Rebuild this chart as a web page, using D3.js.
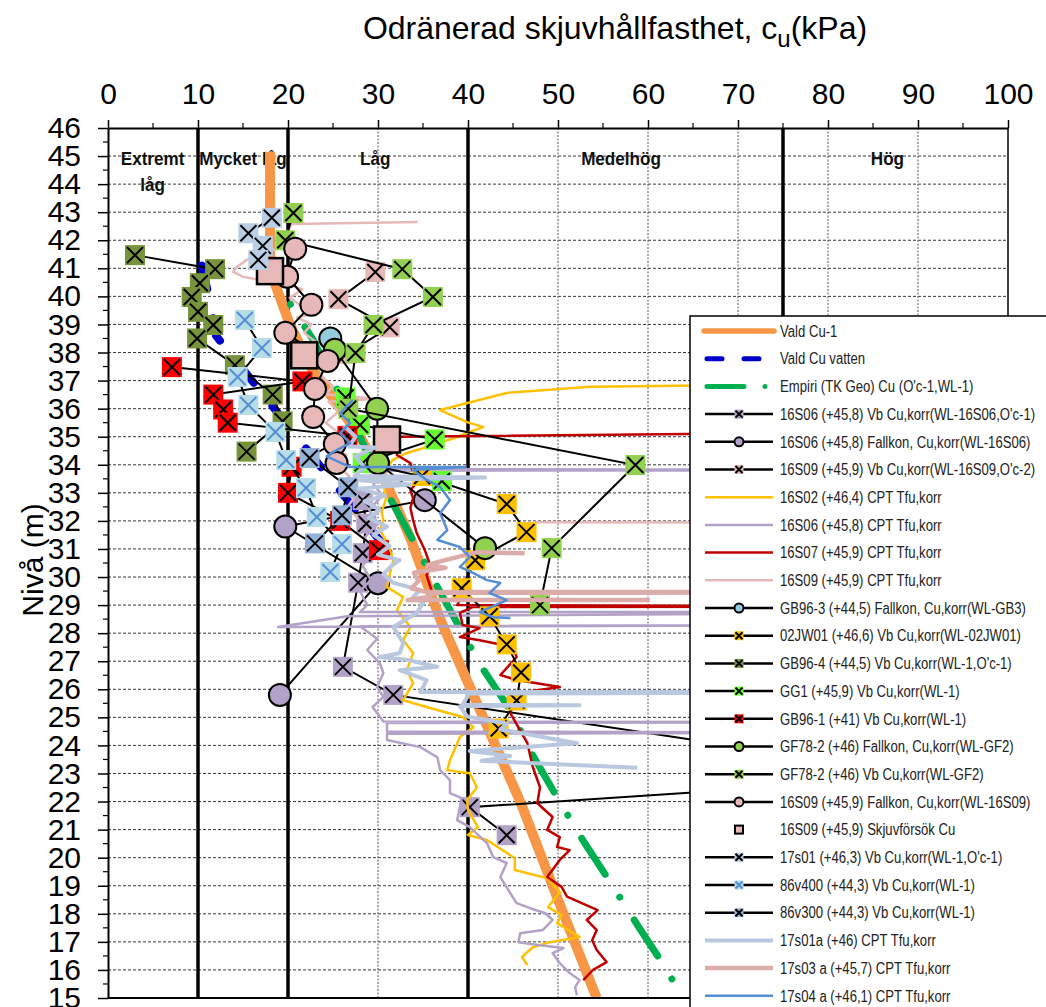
<!DOCTYPE html>
<html>
<head>
<meta charset="utf-8">
<script src="https://cdn.jsdelivr.net/npm/d3@7"></script>
<style>
  body { margin: 0; background: #fff; }
  svg { display: block; }
</style>
</head>
<body>
<svg id="chart" width="1046" height="1007"></svg>
<script>
// ---------- axis ticks and zone boundaries ----------
const xTicks = [0, 10, 20, 30, 40, 50, 60, 70, 80, 90, 100];
const xMinorTicks = [5, 15, 25, 35, 45, 55, 65, 75, 85, 95];
const yTicks = d3.range(15, 47);
const zoneLimits = [10, 20, 40, 75];
const zoneNames = [["Extremt", "låg"], ["Mycket låg"], ["Låg"], ["Medelhög"], ["Hög"]];
const zoneNameAt = [4.95, 15, 29.7, 57, 86.6];

// ---------- design lines [cu kPa, level m] ----------
const valdCu1 = [[18,45.15],[18,41.5],[18.5,40.5],[20.2,39],[22.5,37.5],[24.7,36.5],[28,35],[31,33.3],[33.7,31.3],[36.9,28.5],[41,25.5],[45.8,22],[50,18.5],[54.3,15]];
const valdCuVatten = [[10.4,41.1],[11.3,39.9],[12.0,38.6],[30.2,31.3],[33,30.1]];
const empiri = [[19.3,40.2],[22.8,38.45],[31,33],[33.9,31.3],[36,30],[38.8,28.36],[41.6,26.75],[44.7,25.26],[47.1,23.7],[49.9,22.15],[52.9,20.55],[55.8,19.13],[58.9,17.56],[61.9,16.1],[63.7,15.1]];

// ---------- vane / fall-cone / shear tests [cu kPa, level m] ----------
const vb16S06 = [[28.3,32.74],[28.7,31.9],[28.3,30.85],[27.8,29.8],[26.1,26.8],[31.7,25.8],[92,22.9],[40.2,21.8],[44.3,20.8]];
const fk16S06 = [[35.2,32.74],[19.7,31.8],[30.0,29.78],[19.1,25.8]];
const vb16S09 = [[29.7,40.87],[25.6,39.9],[31.3,38.9],[26.5,37.95]];
const fkGB963 = [[24.7,38.5]];
const vb02JW01 = [[34.9,33.6],[44.3,32.6],[46.5,31.6],[40.8,30.6],[39.3,29.6],[42.4,28.6],[44.3,27.6],[45.9,26.6],[45.4,25.6],[43.4,24.6]];
const vbGB964 = [[3.0,41.47],[11.9,40.97],[10.2,40.47],[9.3,39.98],[10.0,39.45],[11.7,38.98],[9.9,38.5],[14.1,37.55],[18.3,36.5],[19.4,35.55],[15.4,34.47]];
const vbGG1 = [[26.4,36.4],[28.0,35.42],[36.3,34.9],[28.3,34.06],[37.1,33.42]];
const vbGB961 = [[7.1,37.48],[21.6,36.97],[11.7,36.5],[12.8,35.97],[13.3,35.5],[26.6,35.03],[20.4,33.93],[20.0,33.0],[25.8,32.0],[30.1,30.96]];
const fkGF782 = [[25.2,38.1],[29.9,36.0],[30.0,34.06],[41.9,31.03]];
const vbGF782 = [[20.6,42.97],[19.7,42.0],[32.7,40.97],[36.1,39.98],[29.5,38.98],[27.5,37.98],[26.7,36.0],[58.6,33.99],[49.3,31.03],[48.0,29.0]];
const fk16S09 = [[20.8,41.7],[19.9,40.7],[22.6,39.7],[19.7,38.7],[24.4,37.7],[23.0,36.7],[22.8,35.7],[25.2,34.74],[25.4,34.06]];
const skjuv16S09 = [[18.0,40.9],[21.8,37.9],[31.0,34.9]];
const vb17s01 = [[18.2,42.8],[15.6,42.25],[17.2,41.8],[16.7,41.3]];
const vb86v400 = [[15.2,39.16],[17.1,38.16],[14.4,37.13],[15.6,36.13],[18.6,35.17],[19.8,34.17],[22.0,33.17],[23.2,32.14],[26.0,31.17],[24.7,30.18]];
const vb86v300 = [[22.4,34.24],[26.7,33.2],[26.0,32.2],[23.0,31.2]];

// ---------- CPT soundings [cu kPa, level m] ----------
const cpt16S02 = [[75,36.86],[53.6,36.78],[44.3,36.56],[36.9,35.95],[39.9,35.52],[41.7,35.34],[40.2,35.17],[38.8,34.99],[35.4,34.63],[33.2,34.42],[31.6,34.17],[31,33.81],[30.6,33.35],[30.9,32.8],[30.4,32.3],[30.6,32.03],[30.2,31.67],[31.1,31.21],[31.7,30.6],[31.3,30.1],[31,29.64],[32.8,29.29],[32.1,28.82],[33.6,28.22],[32.8,27.75],[33.9,27.29],[33.2,26.68],[33.9,26.22],[32.8,25.61],[35.4,25.37],[39.4,25.01],[40.6,24.65],[39.1,24.3],[38,23.48],[37.7,23.12],[40.2,23.01],[41,22.51],[39.9,22.05],[40,21.7],[41.1,21.09],[40,20.81],[42.1,20.63],[45.2,19.98],[45.2,19.56],[48.8,19.27],[50.2,18.77],[48.9,18.24],[50.4,17.95],[49.9,17.67],[52.4,17.17],[49.1,16.99],[47.2,16.81],[46,16.46],[46.6,16.17]];
const cpt16S06 = [[29.5,34.2],[30.5,33.85],[99,33.8],[31,33.79],[29.5,33.3],[30.5,32.9],[29,32.4],[30,31.9],[28.5,31.4],[29.5,30.9],[28.3,30.4],[29.2,29.9],[28,29.5],[28.8,29.0],[28,28.75],[99,28.75],[26.6,28.6],[18.9,28.22],[99,28.3],[28,28.25],[29.9,27.8],[28.8,27.4],[30.2,26.93],[30.6,26.58],[29.9,26.08],[30.6,25.73],[29.4,25.37],[30.6,24.85],[99,24.82],[31,24.8],[31,24.5],[99,24.45],[31,24.42],[31,24.19],[34.7,23.94],[36.6,23.58],[36.9,23.12],[38,22.76],[38,22.3],[39.3,22.12],[38.8,21.34],[40.2,21.09],[42.1,20.52],[42.8,20.02],[44.3,19.81],[43.6,19.31],[44.7,18.74],[45.4,18.38],[46.9,18.2],[48.6,18.02],[49.4,17.78],[48.3,17.42],[45.8,17.31],[45.6,16.99],[48,16.88],[50.6,16.78],[49.4,16.6],[50.2,16.24],[51.3,15.89],[52.4,15.64],[51.9,15.39],[52.1,15.1]];
const cpt16S07 = [[80,35.14],[32.4,35.0],[32.1,34.35],[33.6,34.06],[34.3,33.35],[33.6,33.1],[33.9,32.81],[33.6,32.46],[33.9,32.03],[34.3,31.57],[35.2,30.96],[35.8,30.43],[35.4,30.07],[36,29.47],[90,29.45],[39.5,29.43],[38.8,29.0],[90,28.95],[40.5,28.93],[39.1,28.72],[39.4,28.29],[41.3,28.18],[39.1,27.86],[41.3,27.75],[45,27.5],[45.4,27.15],[43.6,26.51],[45.4,26.33],[50.2,26.08],[45.4,25.86],[44.7,25.15],[46.6,24.08],[47.2,23.23],[48,22.51],[47.7,21.94],[49.4,21.45],[48.8,20.99],[50.2,20.73],[49.9,20.38],[51.3,20.27],[50.2,19.92],[48.8,19.31],[50.4,18.96],[51,18.61],[54.4,18.13],[53.2,17.78],[54.3,17.42],[53.8,17.06],[54.3,16.71],[55.4,16.28],[53.9,16],[52.8,15.64]];
const cpt16S09 = [[34.4,42.65],[20.4,42.58],[19.8,42.2],[19,41.75],[17,41.45],[15.4,41.3],[14.3,41.05],[13.9,40.87],[15,40.7],[16.6,40.6],[19.3,40.5],[21.6,40.25],[20.2,39.95],[21.3,39.7],[23.6,39.45],[21,39.25],[22.6,39.0],[21.8,38.7],[23.2,38.35],[22.4,38.0],[24.5,37.6],[23.6,37.2],[25,36.8],[24.2,36.5],[29.9,36.35],[24.5,36.25],[25.6,35.9],[24.2,35.5],[25.8,35.1],[24.4,34.7],[26.5,34.35],[25.4,34.0],[26.8,33.6],[25.8,33.2],[27.3,32.8],[26.5,32.45],[27.8,32.1],null,[47.2,31.95],[99,31.93]];
const cpt17s01a = [[26.2,35.4],[27.5,35.0],[26.8,34.65],[29.7,34.62],[27.5,34.3],[28.5,33.9],[27.4,33.6],[41.9,33.55],[28,33.45],[33.6,33.3],[27.8,33.15],[30.8,32.9],[28.5,32.7],[30.2,32.4],[29,32.1],[31,31.8],[29.5,31.5],[31.3,31.1],[30,30.8],[32.4,30.6],[31.5,30.4],[30.6,30.1],[31.7,29.79],[34.7,29.54],[33.9,29.29],[35,29.07],[34.3,28.72],[31.7,28.22],[32.8,27.65],[32.4,27.29],[30.2,27.15],[33.2,27.05],[36.6,26.8],[32.4,26.68],[35.4,26.33],[35,26.08],[34.7,25.9],[99,25.9],[39.9,25.85],[39.9,25.72],[39.4,25.45],[52.4,25.43],[39.1,25.4],[39.9,25.03],[44.3,24.78],[43.6,24.57],[52.1,24.08],[40.2,23.8],[44.7,23.62],[41.5,23.45],[58.8,23.2]];
const cpt17s03a = [[46.3,30.85],[40.9,30.88],[36.8,30.55],[35.5,30.42],[37.5,30.33],[34,30.15],[34.5,29.85],[33.7,29.6],[35.3,29.47],[99,29.46],[36,29.44],[35.8,29.3],[33.3,29.18],[60.2,29.18]];
const cpt17s04a = [[27.2,36.3],[25.8,35.84],[26.9,35.49],[25.8,35.13],[26.9,34.77],[25,34.45],[24.3,34.3],[26.9,33.92],[39.7,33.92],[33.9,33.81],[35.4,33.46],[36.9,33.21],[38,32.74],[36.9,32.28],[37.7,31.67],[36.6,31.32],[39.1,31.07],[40.2,30.71],[39.1,30.36],[40.6,30.14],[42.1,29.89],[43.6,29.79],[42.4,29.43],[44.3,29.18],[41.3,28.75],[42.8,28.57],[44.7,28.54]];

// ---------- series table (drawing and legend order) ----------
const series = [
  { label: "Vald Cu-1", kind: "thick", data: valdCu1, color: "#f79646" },
  { label: "Vald Cu vatten", kind: "dash", data: valdCuVatten, color: "#0000cc" },
  { label: "Empiri (TK Geo) Cu (O'c-1,WL-1)", kind: "dashdot", data: empiri, color: "#00b050" },
  { label: "16S06 (+45,8) Vb Cu,korr(WL-16S06,O'c-1)", kind: "vb", data: vb16S06, fill: "#b3a2c7", cross: "#000" },
  { label: "16S06 (+45,8) Fallkon, Cu,korr(WL-16S06)", kind: "fk", data: fk16S06, fill: "#b3a2c7" },
  { label: "16S09 (+45,9) Vb Cu,korr(WL-16S09,O'c-2)", kind: "vb", data: vb16S09, fill: "#e6b9b8", cross: "#000" },
  { label: "16S02 (+46,4) CPT Tfu,korr", kind: "cpt", data: cpt16S02, color: "#ffc000", width: 2.5 },
  { label: "16S06 (+45,8) CPT Tfu,korr", kind: "cpt", data: cpt16S06, color: "#b3a2c7", width: 2.5 },
  { label: "16S07 (+45,9) CPT Tfu,korr", kind: "cpt", data: cpt16S07, color: "#c00000", width: 2.5 },
  { label: "16S09 (+45,9) CPT Tfu,korr", kind: "cpt", data: cpt16S09, color: "#e6b9b8", width: 2.5 },
  { label: "GB96-3 (+44,5) Fallkon, Cu,korr(WL-GB3)", kind: "fk", data: fkGB963, fill: "#93cddd" },
  { label: "02JW01 (+46,6) Vb Cu,korr(WL-02JW01)", kind: "vb", data: vb02JW01, fill: "#ffc000", cross: "#000" },
  { label: "GB96-4 (+44,5) Vb Cu,korr(WL-1,O'c-1)", kind: "vb", data: vbGB964, fill: "#77933c", cross: "#000" },
  { label: "GG1 (+45,9) Vb Cu,korr(WL-1)", kind: "vb", data: vbGG1, fill: "#66ff33", cross: "#000" },
  { label: "GB96-1 (+41) Vb Cu,korr(WL-1)", kind: "vb", data: vbGB961, fill: "#ff0000", cross: "#000" },
  { label: "GF78-2 (+46) Fallkon, Cu,korr(WL-GF2)", kind: "fk", data: fkGF782, fill: "#92d050" },
  { label: "GF78-2 (+46) Vb Cu,korr(WL-GF2)", kind: "vb", data: vbGF782, fill: "#92d050", cross: "#000" },
  { label: "16S09 (+45,9) Fallkon, Cu,korr(WL-16S09)", kind: "fk", data: fk16S09, fill: "#e6b9b8" },
  { label: "16S09 (+45,9) Skjuvförsök Cu", kind: "box", data: skjuv16S09, fill: "#e6b9b8" },
  { label: "17s01 (+46,3) Vb Cu,korr(WL-1,O'c-1)", kind: "vb", data: vb17s01, fill: "#b9cde5", cross: "#000" },
  { label: "86v400 (+44,3) Vb Cu,korr(WL-1)", kind: "vb", data: vb86v400, fill: "#b7dee8", cross: "#558ed5" },
  { label: "86v300 (+44,3) Vb Cu,korr(WL-1)", kind: "vb", data: vb86v300, fill: "#95b3d7", cross: "#000" },
  { label: "17s01a (+46) CPT Tfu,korr", kind: "cpt", data: cpt17s01a, color: "#b9c7df", width: 4 },
  { label: "17s03 a (+45,7) CPT Tfu,korr", kind: "cpt", data: cpt17s03a, color: "#dcacab", width: 4.5 },
  { label: "17s04 a (+46,1) CPT Tfu,korr", kind: "cpt", data: cpt17s04a, color: "#558ed5", width: 2.5 }
];

// ---------- layout ----------
const svg = d3.select("#chart");
const x = d3.scaleLinear().domain([0, 100]).range([108, 1008]);
const y = d3.scaleLinear().domain([15, 46]).range([998, 128]);
const AX_FONT = "'Liberation Sans', Arial, sans-serif";

svg.append("defs").append("clipPath").attr("id", "plotClip")
  .append("rect").attr("x", x(0)).attr("y", y(46)).attr("width", x(100) - x(0)).attr("height", y(15) - y(46));

// title with subscript u
const title = svg.append("text")
  .attr("x", 615).attr("y", 39).attr("text-anchor", "middle")
  .style("font-family", AX_FONT).style("font-size", "32px").attr("fill", "#000");
title.append("tspan").text("Odränerad skjuvhållfasthet, c");
title.append("tspan").attr("dy", 8).style("font-size", "24px").text("u");
title.append("tspan").attr("dy", -8).text("(kPa)");

// horizontal dashed grid
const grid = svg.append("g");
grid.selectAll("line.h").data(yTicks.filter(d => d > 15 && d < 46)).join("line")
  .attr("x1", x(0)).attr("x2", x(100)).attr("y1", d => y(d)).attr("y2", d => y(d))
  .attr("stroke", "#3a3a3a").attr("stroke-width", 1).attr("stroke-dasharray", "3,2");
// vertical dotted grid
grid.selectAll("line.v").data(xTicks.filter(d => d > 0 && d < 100 && !zoneLimits.includes(d))).join("line")
  .attr("x1", d => x(d)).attr("x2", d => x(d)).attr("y1", y(46)).attr("y2", y(15))
  .attr("stroke", "#555").attr("stroke-width", 1).attr("stroke-dasharray", "2,1.5");

// zone boundaries
svg.append("g").selectAll("line").data(zoneLimits).join("line")
  .attr("x1", d => x(d)).attr("x2", d => x(d)).attr("y1", y(46)).attr("y2", y(15))
  .attr("stroke", "#000").attr("stroke-width", 3.5);

// zone names (condensed bold)
const zn = svg.append("g").style("font-family", AX_FONT).style("font-weight", "bold")
  .style("font-size", "19px").attr("fill", "#111").attr("text-anchor", "middle");
zoneNames.forEach((lines, i) => {
  lines.forEach((t, j) => {
    zn.append("text")
      .attr("transform", `translate(${x(zoneNameAt[i])},${y(44.68) + j * 26}) scale(0.9,1)`)
      .text(t);
  });
});

// ---------- series ----------
const plot = svg.append("g").attr("clip-path", "url(#plotClip)");
const line = d3.line().defined(d => d !== null).x(d => x(d[0])).y(d => y(d[1]));

function squareCross(g, size, half, fill, cross, sw) {
  g.append("rect").attr("x", -size / 2).attr("y", -size / 2).attr("width", size).attr("height", size).attr("fill", fill);
  g.append("path").attr("d", `M${-half},${-half}L${half},${half}M${-half},${half}L${half},${-half}`)
    .attr("stroke", cross).attr("stroke-width", sw).attr("fill", "none");
}
function circleMark(g, r, fill, sw) {
  g.append("circle").attr("r", r).attr("fill", fill).attr("stroke", "#000").attr("stroke-width", sw);
}
function boxMark(g, size, fill, sw) {
  g.append("rect").attr("x", -size / 2).attr("y", -size / 2).attr("width", size).attr("height", size)
    .attr("fill", fill).attr("stroke", "#000").attr("stroke-width", sw);
}

series.forEach(s => {
  const pts = s.data.filter(d => d !== null);
  if (s.kind === "thick") {
    plot.append("path").datum(s.data).attr("d", line).attr("fill", "none")
      .attr("stroke", s.color).attr("stroke-width", 10).attr("stroke-linejoin", "round");
  } else if (s.kind === "dash") {
    plot.append("path").datum(s.data).attr("d", line).attr("fill", "none")
      .attr("stroke", s.color).attr("stroke-width", 8).attr("stroke-linecap", "round")
      .attr("stroke-dasharray", "24,30");
  } else if (s.kind === "dashdot") {
    plot.append("path").datum(s.data).attr("d", line).attr("fill", "none")
      .attr("stroke", s.color).attr("stroke-width", 7).attr("stroke-linecap", "round")
      .attr("stroke-dasharray", "43,27,0.01,27").attr("stroke-dashoffset", 54);
  } else if (s.kind === "cpt") {
    plot.append("path").datum(s.data).attr("d", line).attr("fill", "none")
      .attr("stroke", s.color).attr("stroke-width", s.width).attr("stroke-linejoin", "round");
  } else if (s.kind === "vb" || s.kind === "fk") {
    plot.append("path").datum(pts).attr("d", line).attr("fill", "none")
      .attr("stroke", "#000").attr("stroke-width", 2);
    pts.forEach(p => {
      const g = plot.append("g").attr("transform", `translate(${x(p[0])},${y(p[1])})`);
      if (s.kind === "vb") squareCross(g, 20, 8, s.fill, s.cross, 2);
      else circleMark(g, 11, s.fill, 2);
    });
  } else if (s.kind === "box") {
    pts.forEach(p => {
      const g = plot.append("g").attr("transform", `translate(${x(p[0])},${y(p[1])})`);
      boxMark(g, 26, s.fill, 2.5);
    });
  }
});

// ---------- axes ----------
const topAxis = svg.append("g").attr("transform", `translate(0,${y(46)})`)
  .call(d3.axisTop(x).tickValues(xTicks).tickSize(8).tickSizeOuter(0).tickPadding(16).tickFormat(d3.format("d")));
topAxis.select(".domain").attr("stroke-width", 2);
topAxis.selectAll(".tick line").attr("stroke-width", 1.5);
topAxis.selectAll("text").style("font-family", AX_FONT).style("font-size", "30px").attr("fill", "#000");
svg.append("g").selectAll("line").data(xMinorTicks).join("line")
  .attr("x1", d => x(d)).attr("x2", d => x(d)).attr("y1", y(46)).attr("y2", y(46) - 5)
  .attr("stroke", "#000").attr("stroke-width", 1.2);

const leftAxis = svg.append("g").attr("transform", `translate(${x(0)},0)`)
  .call(d3.axisLeft(y).tickValues(yTicks).tickSize(10).tickSizeOuter(0).tickPadding(17).tickFormat(d3.format("d")));
leftAxis.select(".domain").attr("stroke-width", 2);
leftAxis.selectAll(".tick line").attr("stroke-width", 1.5);
leftAxis.selectAll("text").style("font-family", AX_FONT).style("font-size", "30px").attr("fill", "#000");
svg.append("g").selectAll("line").data(yTicks.slice(0, -1).map(d => d + 0.5)).join("line")
  .attr("x1", x(0) - 5).attr("x2", x(0)).attr("y1", d => y(d)).attr("y2", d => y(d))
  .attr("stroke", "#000").attr("stroke-width", 1.2);

// frame right and bottom
svg.append("line").attr("x1", x(100)).attr("x2", x(100)).attr("y1", y(46)).attr("y2", y(15))
  .attr("stroke", "#000").attr("stroke-width", 1.5);
svg.append("line").attr("x1", x(0)).attr("x2", x(100)).attr("y1", y(15)).attr("y2", y(15))
  .attr("stroke", "#000").attr("stroke-width", 2);

svg.append("text").attr("transform", `translate(43,560) rotate(-90)`).attr("text-anchor", "middle")
  .style("font-family", AX_FONT).style("font-size", "30px").attr("fill", "#000").text("Nivå (m)");

// ---------- legend ----------
const ROW = 27.7, FIRST = 331;
const legend = svg.append("g");
legend.append("rect").attr("x", 690).attr("y", 316).attr("width", 400).attr("height", 720)
  .attr("fill", "#fff").attr("stroke", "#000").attr("stroke-width", 1.5);

series.forEach((s, i) => {
  const cy = FIRST + i * ROW;
  const g = legend.append("g");
  const x1 = 705, x2 = 773, cx = 739;
  if (s.kind === "thick") {
    g.append("line").attr("x1", x1 - 1).attr("x2", x2 + 1).attr("y1", cy).attr("y2", cy)
      .attr("stroke", s.color).attr("stroke-width", 5.5).attr("stroke-linecap", "round");
  } else if (s.kind === "dash") {
    g.append("line").attr("x1", x1 + 2).attr("x2", x2 - 1).attr("y1", cy).attr("y2", cy)
      .attr("stroke", s.color).attr("stroke-width", 5).attr("stroke-linecap", "round")
      .attr("stroke-dasharray", "15,22");
  } else if (s.kind === "dashdot") {
    g.append("line").attr("x1", x1 + 2).attr("x2", x2).attr("y1", cy).attr("y2", cy)
      .attr("stroke", s.color).attr("stroke-width", 5).attr("stroke-linecap", "round")
      .attr("stroke-dasharray", "37,21,0.01,30");
  } else if (s.kind === "cpt") {
    g.append("line").attr("x1", x1).attr("x2", x2).attr("y1", cy).attr("y2", cy)
      .attr("stroke", s.color).attr("stroke-width", s.width >= 4 ? s.width : 2.5);
  } else if (s.kind === "vb" || s.kind === "fk") {
    g.append("line").attr("x1", x1).attr("x2", x2).attr("y1", cy).attr("y2", cy)
      .attr("stroke", "#000").attr("stroke-width", 2.5);
    const m = g.append("g").attr("transform", `translate(${cx},${cy})`);
    if (s.kind === "vb") squareCross(m, 9, 3.5, s.fill, s.cross, 2);
    else circleMark(m, 4.5, s.fill, 2);
  } else if (s.kind === "box") {
    const m = g.append("g").attr("transform", `translate(${cx},${cy})`);
    boxMark(m, 8, s.fill, 2);
  }
  g.append("text").attr("transform", `translate(780,${cy + 5.7}) scale(0.82,1)`)
    .style("font-family", AX_FONT).style("font-size", "16px").attr("fill", "#222").text(s.label);
});
</script>
</body>
</html>
